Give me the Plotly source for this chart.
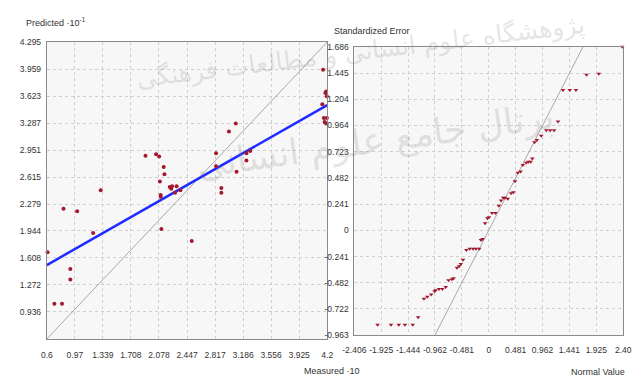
import plotly.graph_objects as go

# ---- Left panel: predicted vs measured ----
measured = [1.90, 2.04, 2.08, 2.14, 2.15, 2.09, 2.10, 2.10, 1.31, 0.82, 1.00, 1.21, 2.11,
            0.61, 0.91, 0.91, 0.70, 0.80, 2.22, 2.24, 2.25, 2.31, 2.29, 2.36, 2.83, 2.83,
            2.90, 2.90, 3.10, 3.00, 3.09, 3.23, 3.28, 3.23, 2.51, 4.26, 4.29, 4.28, 4.24,
            4.27, 4.29, 4.28, 4.23, 4.30, 4.25]
predicted = [2.88, 2.90, 2.87, 2.74, 2.65, 2.56, 2.39, 2.37, 2.45, 2.22, 2.19, 1.92, 1.97,
             1.68, 1.47, 1.34, 1.04, 1.04, 2.49, 2.47, 2.50, 2.50, 2.42, 2.45, 2.91, 2.75,
             2.48, 2.42, 2.68, 3.18, 3.28, 2.91, 2.94, 2.82, 1.82, 3.30, 3.35, 3.28, 3.95,
             3.66, 3.62, 3.68, 3.52, 3.42, 3.35]
fit_x = [0.6, 4.295]
fit_y = [1.52, 3.51]
diag = [0.6, 4.295]
left_x_ticks = [0.6, 0.9695, 1.339, 1.7085, 2.078, 2.4475, 2.817, 3.1865, 3.556, 3.9255, 4.295]
left_x_text = ["0.6", "0.97", "1.339", "1.708", "2.078", "2.447", "2.817", "3.186", "3.556", "3.925", "4.2"]
left_y_ticks = [0.936, 1.272, 1.608, 1.944, 2.279, 2.615, 2.951, 3.287, 3.623, 3.959, 4.295]
left_y_text = ["0.936", "1.272", "1.608", "1.944", "2.279", "2.615", "2.951", "3.287", "3.623", "3.959", "4.295"]

# ---- Right panel: normal probability plot of standardized errors ----
normal_value = [-1.99, -1.75, -1.61, -1.50, -1.36, -1.264, -1.16, -1.10, -1.03, -0.97, -0.95,
                -0.89, -0.83, -0.77, -0.72, -0.66, -0.63, -0.57, -0.53, -0.50, -0.46, -0.40,
                -0.34, -0.28, -0.23, -0.17, -0.14, -0.11, -0.065, -0.024, 0.004, 0.06, 0.12,
                0.18, 0.22, 0.26, 0.29, 0.34, 0.40, 0.44, 0.47, 0.52, 0.57, 0.61, 0.67, 0.71,
                0.75, 0.78, 0.82, 0.86, 0.94, 1.03, 1.10, 1.17, 1.24, 1.33, 1.45, 1.56, 1.75,
                1.97, 2.39]
std_error = [-0.867, -0.867, -0.867, -0.867, -0.867, -0.80, -0.63, -0.61, -0.59, -0.56, -0.55,
             -0.54, -0.54, -0.52, -0.46, -0.45, -0.44, -0.343, -0.33, -0.31, -0.27, -0.18,
             -0.17, -0.17, -0.17, -0.17, -0.09, -0.08, 0.066, 0.11, 0.12, 0.16, 0.16,
             0.225, 0.275, 0.30, 0.30, 0.29, 0.34, 0.35, 0.45, 0.53, 0.54, 0.60, 0.62, 0.63,
             0.63, 0.66, 0.81, 0.83, 0.87, 0.92, 0.92, 0.92, 1.0, 1.29, 1.29, 1.29, 1.43,
             1.44, 1.686]
ref_line = [-0.963, 1.686]
right_x_ticks = [-2.406, -1.925, -1.444, -0.962, -0.481, 0, 0.481, 0.962, 1.444, 1.925, 2.406]
right_x_text = ["-2.406", "-1.925", "-1.444", "-0.962", "-0.481", "0", "0.481", "0.962", "1.441", "1.925", "2.40"]
right_y_ticks = [-0.963, -0.722, -0.482, -0.241, 0, 0.241, 0.482, 0.723, 0.964, 1.204, 1.445, 1.686]
right_y_text = ["-0.963", "-0.722", "-0.482", "-0.241", "0", "0.241", "0.482", "0.723", "0.964", "1.204", "1.445", "1.686"]

W, H = 637, 381
dot = "#a3182f"
font_tick = "Liberation Sans, Arial, sans-serif"

fig = go.Figure()
fig.add_trace(go.Scatter(x=diag, y=diag, mode="lines", line=dict(color="#a8a8a8", width=1),
                         xaxis="x", yaxis="y", hoverinfo="skip"))
fig.add_trace(go.Scatter(x=fit_x, y=fit_y, mode="lines", line=dict(color="#1f2bff", width=2.5),
                         xaxis="x", yaxis="y"))
fig.add_trace(go.Scatter(x=measured, y=predicted, mode="markers",
                         marker=dict(color=dot, size=4), cliponaxis=False,
                         xaxis="x", yaxis="y"))
fig.add_trace(go.Scatter(x=ref_line, y=ref_line, mode="lines", line=dict(color="#a8a8a8", width=1),
                         xaxis="x2", yaxis="y2", hoverinfo="skip"))
fig.add_trace(go.Scatter(x=normal_value, y=std_error, mode="markers",
                         marker=dict(color=dot, size=4, symbol="triangle-down"), cliponaxis=False,
                         xaxis="x2", yaxis="y2"))

def px_x(p):
    return p / W

def px_y(p):
    return 1 - p / H

grid = dict(showgrid=True, gridcolor="#cfcfcf", griddash="dot", gridwidth=1,
            zeroline=False, showline=True, linecolor="#8a8a8a", linewidth=1, mirror=True,
            ticks="", tickangle=0, tickfont=dict(family=font_tick, size=8.5, color="#333333"))

fig.update_layout(
    width=W, height=H, showlegend=False,
    margin=dict(l=0, r=0, t=0, b=0),
    paper_bgcolor="white", plot_bgcolor="#f7f7f7",
    xaxis=dict(domain=[px_x(36), px_x(326)], range=[0.6, 4.295], anchor="y",
               tickvals=left_x_ticks, ticktext=left_x_text, ticklabelstandoff=8, **grid),
    yaxis=dict(domain=[px_y(343), px_y(38)], range=[0.6, 4.295], anchor="x",
               tickvals=left_y_ticks, ticktext=left_y_text, ticklabelstandoff=3, **grid),
    xaxis2=dict(domain=[px_x(354), px_x(632)], range=[-2.406, 2.406], anchor="y2",
                tickvals=right_x_ticks, ticktext=right_x_text, ticklabelstandoff=7, **grid),
    yaxis2=dict(domain=[px_y(339), px_y(43)], range=[-0.963, 1.686], anchor="x2",
                tickvals=right_y_ticks, ticktext=right_y_text, ticklabelstandoff=3, **grid),
)

title_font = dict(family=font_tick, size=9, color="#333333")
fig.add_annotation(x=px_x(12), y=px_y(17), xref="paper", yref="paper", xanchor="left",
                   yanchor="middle", showarrow=False, font=title_font,
                   text="Predicted ·10<sup>-1</sup>")
fig.add_annotation(x=px_x(300), y=px_y(376), xref="paper", yref="paper", xanchor="left",
                   yanchor="middle", showarrow=False, font=title_font, text="Measured ·10")
fig.add_annotation(x=px_x(331), y=px_y(27), xref="paper", yref="paper", xanchor="left",
                   yanchor="middle", showarrow=False, font=title_font, text="Standardized Error")
fig.add_annotation(x=px_x(636), y=px_y(377), xref="paper", yref="paper", xanchor="right",
                   yanchor="middle", showarrow=False, font=title_font, text="Normal Value")

# Faint institutional watermark
wm_color = "rgba(120,120,120,0.2)"
fig.add_annotation(x=px_x(360), y=px_y(48), xref="paper", yref="paper", showarrow=False,
                   xanchor="center", yanchor="middle", textangle=-7,
                   font=dict(family="DejaVu Sans, sans-serif", size=25, color=wm_color),
                   text="پژوهشگاه علوم انسانی و مطالعات فرهنگی")
fig.add_annotation(x=px_x(375), y=px_y(140), xref="paper", yref="paper", showarrow=False,
                   xanchor="center", yanchor="middle", textangle=-8,
                   font=dict(family="DejaVu Sans, sans-serif", size=36, color=wm_color),
                   text="پرتال جامع علوم انسانی")

fig.write_html("out.html")
